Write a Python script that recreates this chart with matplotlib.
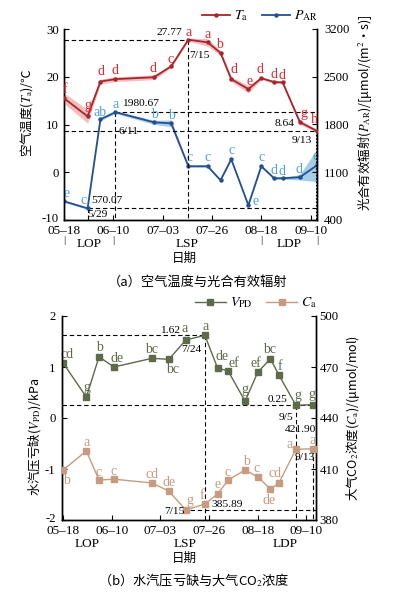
import datetime as dt
import matplotlib
matplotlib.use("Agg")
import matplotlib.pyplot as plt
import matplotlib.transforms as mtrans
from matplotlib.lines import Line2D

plt.rcParams['font.family'] = ['Liberation Serif', 'Noto Sans CJK SC']
plt.rcParams['mathtext.fontset'] = 'stix'
plt.rcParams['axes.unicode_minus'] = False
CJK = 'Noto Sans CJK SC'

# ---------------- data ----------------
dates = ['05-18', '05-29', '06-04', '06-11', '06-29', '07-07', '07-15', '07-24',
         '07-30', '08-04', '08-12', '08-18', '08-24', '08-28', '09-05', '09-13']
tick_dates = ['05-18', '06-10', '07-03', '07-26', '08-18', '09-10']
tick_labels = ['05–18', '06–10', '07–03', '07–26', '08–18', '09–10']
phase_names = ['LOP', 'LSP', 'LDP']
phase_marks = ['05-18', '06-10', '08-18', '09-13']

ta = [15.5, 11.7, 19.0, 19.5, 19.9, 22.2, 27.77, 27.2, 25.0, 19.5, 17.4, 19.7, 18.9, 18.8, 10.5, 8.64]
ta_sd = [1.1, 1.4, 0.5, 0.5, 0.5, 0.3, 0.3, 0.8, 0.5, 0.5, 0.8, 0.3, 0.3, 0.3, 0.5, 0.3]
ta_letters = ['f', 'g', 'd', 'd', 'd', 'c', 'a', 'a', 'b', 'd', 'e', 'd', 'd', 'd', 'g', 'h']

par = [675, 570.07, 1877, 1980.67, 1832, 1817, 1188, 1188, 983, 1290, 617, 1188, 1012, 1012, 1027, 1202]
par_sd = [15, 15, 20, 20, 30, 50, 15, 15, 15, 15, 15, 15, 15, 15, 40, 240]
par_letters = ['e', 'c', 'ab', 'a', 'b', 'b', 'c', 'c', '', 'c', 'e', 'c', 'd', 'd', 'd', 'e']

vpd = [1.08, 0.41, 1.20, 1.00, 1.17, 1.15, 1.53, 1.62, 0.98, 0.92, 0.33, 0.90, 1.16, 0.84, 0.25, 0.26]
vpd_letters = ['cd', 'g', 'b', 'de', 'bc', 'bc', 'a', 'a', 'de', 'ef', 'g', 'ef', 'bc', 'f', 'g', 'g']

co2 = [409.4, 420.6, 403.5, 404.0, 401.8, 397.0, 385.89, 389.4, 395.3, 403.5, 409.4, 405.3, 398.2, 401.8, 421.6, 421.90]
co2_letters = ['b', 'a', 'c', 'c', 'cd', 'de', 'g', 'f', 'e', 'c', 'b', 'c', 'de', 'cd', 'a', 'a']

# label offsets in pixels (dx, dy; dy positive = downwards)
ta_offs = [(1, -9), (0, -11), (1, -10), (0, -9), (-1, -9), (-1, -7), (0, -7), (0, -8),
           (-1, -8), (3, -10), (1, -8), (-1, -9), (0, -8), (-1, -7), (4, -9), (-3, -11)]
par_offs = [(3, -8), (-4, -8), (0, -7), (0, -8), (0, -8), (0, -8), (1, -9), (0, -9),
            (0, 0), (0, -9), (7, -4), (0, -9), (0, -8), (-1, -7), (-1, -8), (-1, -9)]
vpd_offs = [(4, -8), (0, -10), (0, -9), (3, -8), (0, -9), (4, 10), (-1, -11), (1, -9),
            (4, -12), (6, -8), (0, -12), (-2, -9), (-1, -9), (1, -9), (2, -10), (-1, -10)]
co2_offs = [(3, 10), (0, -8), (0, -8), (0, -8), (0, -8), (0, -9), (4, -9), (-3, -9),
            (0, -9), (-1, -8), (1, -9), (-1, -8), (-1, 11), (-4, -9), (-6, -5), (0, -8)]


def day(s):
    m, d = map(int, s.split('-'))
    return (dt.date(2021, m, d) - dt.date(2021, 5, 18)).days


x = [day(s) for s in dates]
xt = [day(s) for s in tick_dates]

C_TA = '#a8262b'
C_TA_TXT = '#e0262a'
C_TA_BAND = '#e06d72'
C_PAR = '#24508f'
C_PAR_TXT = '#4da3d6'
C_PAR_BAND = '#5aa6d6'
C_VPD = '#5f6a4b'
C_CO2 = '#c69b80'

DASH = (0, (4, 2.5))
LFS = 10  # letter font size

fig = plt.figure(figsize=(3.96, 5.95), dpi=100)
W, H = 396.0, 595.0


def style_axes(ax):
    ax.spines['top'].set_visible(False)
    for sp in ax.spines.values():
        sp.set_linewidth(1.0)
    ax.tick_params(direction='in', length=3.5, width=0.8, labelsize=9.5)
    ax.tick_params(axis='y', labelsize=9.2)


def lift_first_ylabel(ax, px=3):
    lab = ax.get_yticklabels()[0]
    lab.set_transform(lab.get_transform() + mtrans.ScaledTranslation(0, px / 100, fig.dpi_scale_trans))


def put_letters(ax, xs, ys, labs, offs, color, fs=LFS):
    for xi, yi, lab, (dx, dy) in zip(xs, ys, labs, offs):
        if lab:
            ax.annotate(lab, (xi, yi), xytext=(dx, -dy), textcoords='offset pixels',
                        ha='center', va='center', color=color, fontsize=fs)


def note(ax, txt, xy, off, ha, fs=8.2):
    ax.annotate(txt, xy, xytext=(off[0], -off[1]), textcoords='offset pixels',
                ha=ha, va='center', color='black', fontsize=fs)


# ================= panel (a) =================
ax1 = fig.add_axes([64 / W, 1 - 220 / H, 253 / W, 191 / H])
ax2 = ax1.twinx()
ax1.set_xlim(0, 118)
ax1.set_ylim(-10, 30)
ax2.set_ylim(400, 3200)
ax1.set_yticks([-10, 0, 10, 20, 30])
ax2.set_yticks([400, 1100, 1800, 2500, 3200])
ax1.set_xticks(xt)
ax1.set_xticklabels(tick_labels)
style_axes(ax1)
style_axes(ax2)
ax1.tick_params(axis='x', pad=3.8)
ax1.tick_params(axis='y', pad=3.5)
ax2.tick_params(axis='y', pad=5)
lift_first_ylabel(ax1)

ta_lo = [a - b for a, b in zip(ta, ta_sd)]
ta_hi = [a + b for a, b in zip(ta, ta_sd)]
par_lo = [a - b for a, b in zip(par, par_sd)]
par_hi = [a + b for a, b in zip(par, par_sd)]

ax2.fill_between(x, par_lo, par_hi, color=C_PAR_BAND, alpha=0.55, lw=0)
ax2.plot(x, par, color=C_PAR, lw=1.3, marker='o', ms=2.2, zorder=3)
ax1.fill_between(x, ta_lo, ta_hi, color=C_TA_BAND, alpha=0.45, lw=0, zorder=2)
ax1.plot(x, ta, color=C_TA, lw=1.3, marker='o', ms=2.2, zorder=3)
ax1.set_zorder(ax2.get_zorder() + 1)
ax1.patch.set_visible(False)

i_ta_max = ta.index(max(ta))
i_ta_min = ta.index(min(ta))
i_par_max = par.index(max(par))
i_par_min = par.index(min(par))

# reference lines
ax1.plot([0, x[i_ta_max]], [ta[i_ta_max]] * 2, color='k', lw=0.8, ls=DASH)
ax1.plot([x[i_ta_max]] * 2, [ta[i_ta_max], -10], color='k', lw=0.8, ls=DASH)
ax1.plot([0, 118], [ta[i_ta_min]] * 2, color='k', lw=0.8, ls=DASH)
ax1.plot([x[i_ta_min] - 0.6] * 2, [ta[i_ta_min], -10], color='k', lw=0.8, ls=(0, (1.5, 1.5)))
ax2.plot([x[i_par_max], 118], [par[i_par_max]] * 2, color='k', lw=0.8, ls=DASH)
ax2.plot([x[i_par_max]] * 2, [par[i_par_max], 400], color='k', lw=0.8, ls=DASH)
ax2.plot([x[i_par_min], 118], [par[i_par_min]] * 2, color='k', lw=0.8, ls=DASH)
ax2.plot([x[i_par_min]] * 2, [par[i_par_min], 400], color='k', lw=0.8, ls=DASH)

put_letters(ax1, x, ta, ta_letters, ta_offs, C_TA_TXT)
put_letters(ax2, x, par, par_letters, par_offs, C_PAR_TXT)

note(ax1, f'{ta[i_ta_max]:.2f}', (x[i_ta_max], ta[i_ta_max]), (-6, -7), 'right')
note(ax1, '7/15', (x[i_ta_max], ta[i_ta_max]), (1, 16), 'left')
note(ax1, f'{ta[i_ta_min]:.2f}', (x[i_ta_min], ta[i_ta_min]), (-22, -7), 'right')
note(ax1, '9/13', (x[i_ta_min], ta[i_ta_min]), (-5, 10), 'right')
note(ax2, f'{par[i_par_max]:.2f}', (x[i_par_max], par[i_par_max]), (7, -9), 'left')
note(ax2, '6/11', (x[i_par_max], par[i_par_max]), (3, 19), 'left')
note(ax2, f'{par[i_par_min]:.2f}', (x[i_par_min], par[i_par_min]), (4, -8), 'left')
note(ax2, '5/29', (x[i_par_min], par[i_par_min]), (0, 6), 'left')

# phase marks
trans1 = ax1.get_xaxis_transform()
for pm in phase_marks:
    ax1.text(day(pm), -0.107, '|', transform=trans1, ha='center', va='center', fontsize=8)
for k, nm in enumerate(phase_names):
    xm = (day(phase_marks[k]) + day(phase_marks[k + 1])) / 2
    ax1.text(xm, -0.124, nm, transform=trans1, ha='center', va='center', fontsize=9.5)

fig.text(27 / W, 1 - 113 / H, '空气温度($T_\\mathrm{a}$)/℃', rotation=90,
         ha='center', va='center', fontsize=9, family=CJK)
fig.text(364 / W, 1 - 113 / H, '光合有效辐射($P_\\mathrm{AR}$)/[μmol/(m$^2$·s)]', rotation=90,
         ha='center', va='center', fontsize=9, family=CJK)
fig.text(184 / W, 1 - 258 / H, '日期', ha='center', va='center', fontsize=9, family=CJK)
fig.text(198 / W, 1 - 282 / H, '（a）空气温度与光合有效辐射', ha='center', va='center',
         fontsize=9.5, family=CJK)

h1 = [Line2D([], [], color=C_TA, lw=1.3, marker='o', ms=2.2),
      Line2D([], [], color=C_PAR, lw=1.3, marker='o', ms=2.2)]
fig.legend(h1, ['$T_\\mathrm{a}$', '$P_\\mathrm{AR}$'], loc='center',
           bbox_to_anchor=(260 / W, 1 - 16 / H), ncol=2, frameon=False, fontsize=10,
           handlelength=2.0, handletextpad=0.3, columnspacing=1.0, borderpad=0)

# ================= panel (b) =================
ax3 = fig.add_axes([62 / W, 1 - 520 / H, 254 / W, 204 / H])
ax4 = ax3.twinx()
ax3.set_xlim(-0.5, 119.5)
ax3.set_ylim(-2, 2)
ax4.set_ylim(380, 500)
ax3.set_yticks([-2, -1, 0, 1, 2])
ax4.set_yticks([380, 410, 440, 470, 500])
ax3.set_xticks(xt)
ax3.set_xticklabels(tick_labels)
style_axes(ax3)
style_axes(ax4)
ax3.tick_params(axis='x', pad=3.8)
ax3.tick_params(axis='y', pad=4.5)
ax4.tick_params(axis='y', pad=2.5)
lift_first_ylabel(ax3)

ax3.plot(x, vpd, color=C_VPD, lw=1.0, marker='s', ms=4.5, zorder=3)
ax4.plot(x, co2, color=C_CO2, lw=1.0, marker='s', ms=4.5, zorder=3)

i_v_max = vpd.index(max(vpd))
i_v_min = vpd.index(min(vpd))
i_c_max = co2.index(max(co2))
i_c_min = co2.index(min(co2))

ax3.plot([-0.5, x[i_v_max]], [vpd[i_v_max]] * 2, color='k', lw=0.8, ls=DASH)
ax3.plot([x[i_v_max]] * 2, [vpd[i_v_max], -2], color='k', lw=0.8, ls=DASH)
ax3.plot([-0.5, 119.5], [vpd[i_v_min]] * 2, color='k', lw=0.8, ls=DASH)
ax3.plot([x[i_v_min]] * 2, [vpd[i_v_min], -2], color='k', lw=0.8, ls=DASH)
ax4.plot([x[i_c_min] + 2, 119.5], [co2[i_c_min]] * 2, color='k', lw=0.8, ls=DASH)
ax4.plot([x[i_c_max]] * 2, [co2[i_c_max], 380], color='k', lw=0.8, ls=DASH)

put_letters(ax3, x, vpd, vpd_letters, vpd_offs, C_VPD)
put_letters(ax4, x, co2, co2_letters, co2_offs, C_CO2)

note(ax3, f'{vpd[i_v_max]:.2f}', (x[i_v_max], vpd[i_v_max]), (-25, -5), 'right')
note(ax3, '7/24', (x[i_v_max], vpd[i_v_max]), (-3, 14), 'right')
note(ax3, f'{vpd[i_v_min]:.2f}', (x[i_v_min], vpd[i_v_min]), (-8, -6), 'right')
note(ax3, '9/5', (x[i_v_min], vpd[i_v_min]), (-3, 12), 'right')
note(ax4, f'{co2[i_c_max]:.2f}', (x[i_c_max], co2[i_c_max]), (-12, -19), 'center')
note(ax4, '9/13', (x[i_c_max], co2[i_c_max]), (2, 9), 'right')
note(ax4, f'{co2[i_c_min]:.2f}', (x[i_c_min], co2[i_c_min]), (26, -5), 'left')
note(ax4, '7/15', (x[i_c_min], co2[i_c_min]), (-1, 2), 'right')

trans3 = ax3.get_xaxis_transform()
for k, nm in enumerate(phase_names):
    xm = (day(phase_marks[k]) + day(phase_marks[k + 1])) / 2
    ax3.text(xm, -0.12, nm, transform=trans3, ha='center', va='center', fontsize=9.5)

fig.text(34 / W, 1 - 437 / H, '水汽压亏缺($V_\\mathrm{PD}$)/kPa', rotation=90,
         ha='center', va='center', fontsize=9, family=CJK)
fig.text(353 / W, 1 - 418 / H, '大气CO$_2$浓度($C_\\mathrm{a}$)/(μmol/mol)', rotation=90,
         ha='center', va='center', fontsize=9, family=CJK)
fig.text(184 / W, 1 - 558 / H, '日期', ha='center', va='center', fontsize=9, family=CJK)
fig.text(194 / W, 1 - 580 / H, '（b）水汽压亏缺与大气CO$_2$浓度', ha='center', va='center',
         fontsize=9.5, family=CJK)

h2 = [Line2D([], [], color=C_VPD, lw=1.0, marker='s', ms=4.5),
      Line2D([], [], color=C_CO2, lw=1.0, marker='s', ms=4.5)]
fig.legend(h2, ['$V_\\mathrm{PD}$', '$C_\\mathrm{a}$'], loc='center',
           bbox_to_anchor=(256 / W, 1 - 303 / H), ncol=2, frameon=False, fontsize=10,
           handlelength=2.2, handletextpad=0.3, columnspacing=1.0, borderpad=0)

fig.savefig('out.png', dpi=100)
